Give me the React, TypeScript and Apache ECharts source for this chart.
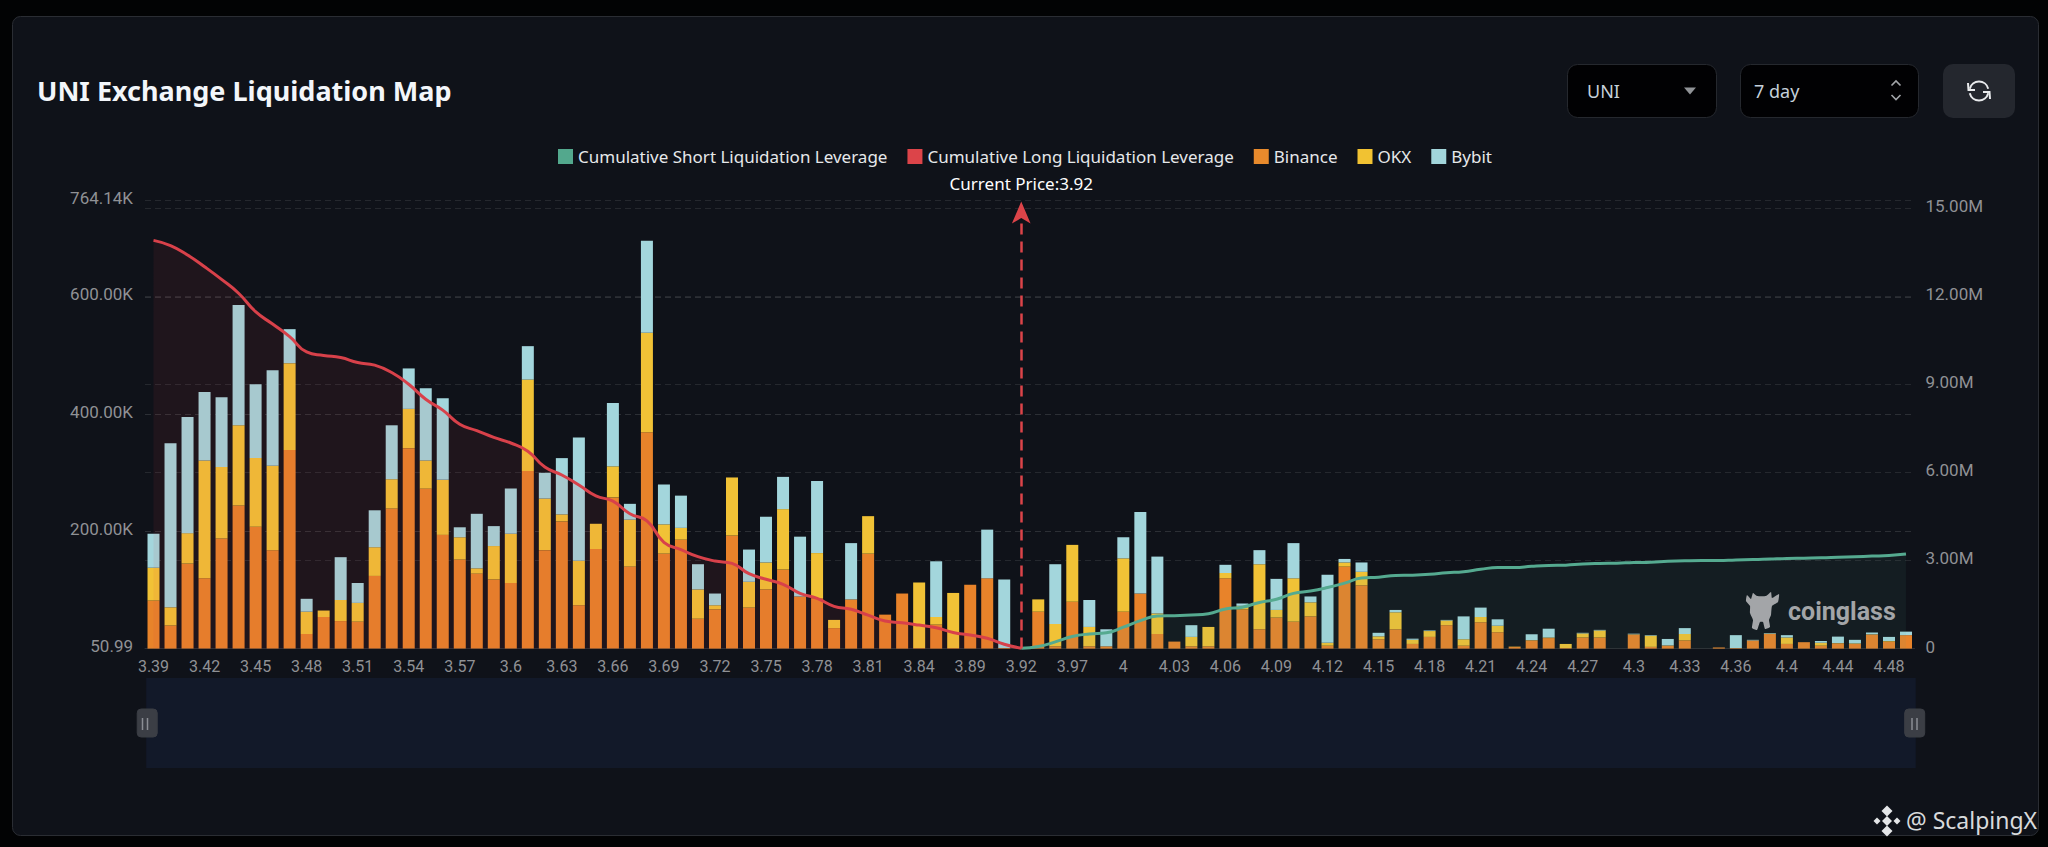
import React, { useEffect, useRef } from "react";
import * as echarts from "echarts";

const categories = [
  "3.39","3.4","3.41","3.42","3.43","3.44","3.45","3.46","3.47","3.48","3.49","3.5","3.51","3.52","3.53","3.54","3.55","3.56","3.57","3.58","3.59","3.6","3.61","3.62","3.63","3.64","3.65","3.66","3.67","3.68","3.69","3.7","3.71","3.72","3.73","3.74","3.75","3.76","3.77","3.78","3.79","3.8","3.81","3.82","3.83","3.84",
  "3.86","3.87","3.89","3.9","3.91","3.92","3.94","3.95","3.97","3.98","3.99","4","4.01","4.02","4.03","4.04","4.05","4.06","4.07","4.08","4.09","4.1","4.11","4.12","4.13","4.14","4.15","4.16","4.17","4.18","4.19","4.2","4.21","4.22","4.23","4.24","4.25","4.26","4.27","4.28","4.29","4.3","4.31","4.32","4.33","4.34","4.35","4.36","4.37","4.39","4.4","4.41","4.43","4.44","4.45","4.47","4.48","4.49",
];

// Thousands
const binanceK = [82,39.5,145,120,188,244,208,168,339,25,54,47,46,124,239,342,273,194,152,128,118,112,303,168,217,74,170,258,140,369,162,186,51,67,193,70,101,135,89,86,35,84,162,58,94,1,41,1,109,120,1,0,63,4,80,4,4,63,94,25,12,4,4,120,67,33,53,46,55,5,140,108,16,33,8,20,40,5,45,28,3,14,18,1,19,19,0,24,3,5,14,0,2,1,14,25,8,11,5,9,8,24,12,23];
const okxK = [56,31,52,201,122,137,117,144,148,38,11,36,32,49,50,67,48,94,38,9,57,84,156,88,12,76,43,53,80,170,50,20,50,7,99,44,46,103,0,77,14,0,64,0,0,112,13,94,0,0,0,0,21,38,97,33,0,91,0,35,0,16,33,9,6,111,13,74,24,5,7,23,5,29,7,10,8,11,9,11,0.5,0.5,1,7,7,12,0,0.5,19,0.5,11,0,0,0,0,0.5,11,0,5,0.5,1,0.5,1,0];
const bybitK = [58,280,198,117,119,205,126,163,58,22,0,73,34,63,92,69,123,139,17,93,34,77,57,44,96,210,0,108,27,157,68,55,43,20,0,55,78,55,102,123,0,96,0,0,0,0,95,0,0,83,117,0,0,102,0,46,29,36,139,97,0,20,0,14,4,24,53,60,10,116,6,16,6,4,2,1,1,39,16,11,0,10,15,0,1,1,0,1,1,11,10,0,0,22,1,1,4,0,3,11,6,3,7,6];

// Millions, from the first category up to the current price
const longCumM = [13.9,13.72,13.4,13.0,12.57,12.1,11.47,11.05,10.62,10.1,9.98,9.91,9.74,9.65,9.4,9.0,8.49,8.12,7.64,7.42,7.19,7.0,6.72,6.18,5.91,5.57,5.2,5.02,4.59,4.35,3.62,3.37,3.13,2.98,2.9,2.55,2.36,2.19,1.88,1.71,1.44,1.34,1.14,0.94,0.88,0.8,0.71,0.55,0.46,0.35,0.15,0.01];
// Millions, from the current price to the last category
const shortCumM = [0.01,0.07,0.23,0.41,0.5,0.54,0.73,0.95,1.11,1.12,1.14,1.19,1.35,1.41,1.57,1.68,1.88,1.96,2.08,2.23,2.4,2.43,2.49,2.5,2.53,2.58,2.62,2.7,2.76,2.76,2.8,2.83,2.84,2.88,2.9,2.91,2.93,2.94,2.97,2.99,3.0,3.0,3.02,3.03,3.05,3.07,3.08,3.09,3.11,3.13,3.15,3.17,3.22];

const CURRENT_PRICE = "3.92";
const LEFT_MIN = 50.99;
const LEFT_MAX = 764140;
const RIGHT_MAX = 15250000;

const UI = "'Noto Sans', sans-serif";
const AX = "Roboto, sans-serif";

const formatLeft = (v: number) => (v >= 1000 ? (v / 1000).toFixed(2) + "K" : String(v));
const formatRight = (v: number) => (v === 0 ? "0" : (v / 1e6).toFixed(2) + "M");

function diamond(cx: number, cy: number, r: number, fill: string) {
  return { type: "polygon", z: 100, silent: true, shape: { points: [[cx, cy - r], [cx + r, cy], [cx, cy + r], [cx - r, cy]] }, style: { fill } };
}

function grip(x: number) {
  return [-2.5, 2.5].map((d) => ({
    type: "line", z: 100, silent: true,
    shape: { x1: x + d, y1: 718, x2: x + d, y2: 730 },
    style: { stroke: "#8b8e94", lineWidth: 1.5 },
  }));
}

const graphicEls: any[] = [
  { type: "rect", z: -10, silent: true, shape: { x: 12.5, y: 16.5, width: 2026, height: 819, r: 8 }, style: { fill: "#0f1219", stroke: "#2a2d33", lineWidth: 1 } },
  // select: coin
  { type: "rect", z: 100, silent: true, shape: { x: 1567.5, y: 64.5, width: 149, height: 53, r: 10 }, style: { fill: "#010103", stroke: "#25282e", lineWidth: 1 } },
  { type: "text", z: 100, silent: true, x: 1587, y: 91, style: { text: "UNI", fill: "#c5d0da", font: `18px ${UI}`, verticalAlign: "middle" } },
  { type: "polygon", z: 100, silent: true, shape: { points: [[1684, 87.5], [1696, 87.5], [1690, 94.5]] }, style: { fill: "#909397" } },
  // select: period
  { type: "rect", z: 100, silent: true, shape: { x: 1740.5, y: 64.5, width: 178, height: 53, r: 10 }, style: { fill: "#010103", stroke: "#25282e", lineWidth: 1 } },
  { type: "text", z: 100, silent: true, x: 1754, y: 91, style: { text: "7 day", fill: "#c5d0da", font: `18px ${UI}`, verticalAlign: "middle" } },
  { type: "polyline", z: 100, silent: true, shape: { points: [[1891.5, 85.5], [1896, 81], [1900.5, 85.5]] }, style: { fill: "none", stroke: "#a2a5a9", lineWidth: 1.6 } },
  { type: "polyline", z: 100, silent: true, shape: { points: [[1891.5, 95], [1896, 99.5], [1900.5, 95]] }, style: { fill: "none", stroke: "#a2a5a9", lineWidth: 1.6 } },
  // refresh button
  { type: "rect", z: 100, silent: true, shape: { x: 1943, y: 64, width: 72, height: 54, r: 10 }, style: { fill: "#24272e" } },
  { type: "arc", z: 101, silent: true, shape: { cx: 1979, cy: 91, r: 9.5, startAngle: -2.9, endAngle: -0.25, clockwise: true }, style: { fill: "none", stroke: "#e8eaec", lineWidth: 2 } },
  { type: "arc", z: 101, silent: true, shape: { cx: 1979, cy: 91, r: 9.5, startAngle: 0.25, endAngle: 2.9, clockwise: true }, style: { fill: "none", stroke: "#e8eaec", lineWidth: 2 } },
  { type: "polyline", z: 101, silent: true, shape: { points: [[1968, 83], [1968.5, 90], [1975, 90]] }, style: { fill: "none", stroke: "#e8eaec", lineWidth: 2 } },
  { type: "polyline", z: 101, silent: true, shape: { points: [[1990, 99], [1989.5, 92], [1983, 92]] }, style: { fill: "none", stroke: "#e8eaec", lineWidth: 2 } },
  // coinglass mark
  { type: "polygon", z: 5, silent: true, shape: { smooth: 0.15, points: [[1747, 595], [1751, 599], [1753, 593], [1757, 596], [1766, 596], [1771, 592], [1772, 598], [1779, 594], [1778, 602], [1772, 606], [1771, 615], [1769, 620], [1770, 627], [1765, 629], [1763, 622], [1760, 622], [1757, 630], [1752, 628], [1753, 620], [1750, 613], [1750, 606], [1746, 601]] }, style: { fill: "#a3a5a8" } },
  { type: "text", z: 5, silent: true, x: 1788, y: 611, style: { text: "coinglass", fill: "#a3a5a8", font: `bold 25px ${AX}`, verticalAlign: "middle" } },
  // credit
  diamond(1887, 811, 5.5, "#e4e6e8"), diamond(1887, 831, 5.5, "#e4e6e8"), diamond(1877, 821, 3.5, "#e4e6e8"), diamond(1897, 821, 3.5, "#e4e6e8"), diamond(1887, 821, 5, "#e4e6e8"),
  { type: "text", z: 100, silent: true, x: 1906, y: 820, style: { text: "@ ScalpingX", fill: "#d8dadc", font: `23px ${UI}`, verticalAlign: "middle" } },
  ...grip(145), ...grip(1914.5),
];

export default function App() {
  const ref = useRef<HTMLDivElement>(null);

  useEffect(() => {
    document.body.style.margin = "0";
    document.body.style.background = "#020304";
    const chart = echarts.init(ref.current!, undefined, { renderer: "svg" });

    const longData = categories.map((_, i) => (i < longCumM.length ? longCumM[i] * 1e6 : null));
    const shortData = categories.map((_, i) => {
      const k = i - (longCumM.length - 1);
      return k >= 0 && k < shortCumM.length ? shortCumM[k] * 1e6 : null;
    });

    const barSeries = (name: string, values: number[], color: string) => ({
      name, type: "bar", stack: "ex", yAxisIndex: 0, barWidth: 12, z: 2,
      data: values.map((v) => v * 1000), itemStyle: { color },
    });

    chart.setOption({
      animation: false,
      backgroundColor: "#020304",
      title: {
        text: "UNI Exchange Liquidation Map", left: 32, top: 72,
        textStyle: { color: "#f3f6fa", fontFamily: UI, fontSize: 27, fontWeight: "bold" },
      },
      legend: {
        left: 553, top: 143, itemWidth: 15, itemHeight: 15, itemGap: 20,
        textStyle: { color: "#e6e8ea", fontFamily: UI, fontSize: 17 },
        data: [
          { name: "Cumulative Short Liquidation Leverage", icon: "rect", itemStyle: { color: "#53a88d" } },
          { name: "Cumulative Long Liquidation Leverage", icon: "rect", itemStyle: { color: "#dc4449" } },
          { name: "Binance", icon: "rect", itemStyle: { color: "#e88a2c" } },
          { name: "OKX", icon: "rect", itemStyle: { color: "#f1c232" } },
          { name: "Bybit", icon: "rect", itemStyle: { color: "#a2d5db" } },
        ],
      },
      grid: { left: 145, right: 133.5, top: 200.7, bottom: 847 - 648.6 },
      xAxis: {
        type: "category", data: categories, boundaryGap: true,
        axisLine: { lineStyle: { color: "#2c2f35" } },
        axisTick: { interval: 2, length: 5, lineStyle: { color: "#2c2f35" } },
        axisLabel: { interval: 2, color: "#8f9195", fontFamily: AX, fontSize: 16, margin: 10 },
      },
      yAxis: [
        {
          type: "value", min: LEFT_MIN, max: LEFT_MAX, splitNumber: 4,
          axisLine: { show: false }, axisTick: { show: false },
          axisLabel: { color: "#8f9195", fontFamily: AX, fontSize: 17, margin: 12, verticalAlign: "bottom", padding: [0, 0, -6, 0], formatter: formatLeft, showMinLabel: true, showMaxLabel: true },
          splitLine: { lineStyle: { color: "#2c2f35", type: [6, 4], width: 1 } },
        },
        {
          type: "value", min: 0, max: RIGHT_MAX, interval: 3000000,
          axisLine: { show: false }, axisTick: { show: false },
          axisLabel: { color: "#8f9195", fontFamily: AX, fontSize: 17, margin: 11, verticalAlign: "bottom", padding: [0, 0, -6.5, 0], formatter: formatRight, showMaxLabel: false },
          splitLine: { lineStyle: { color: "#25282e", type: [6, 4], width: 1 } },
        },
      ],
      dataZoom: [
        {
          type: "slider", xAxisIndex: 0, start: 0, end: 100, filterMode: "none",
          left: 145, right: 133.5, top: 678, height: 90,
          backgroundColor: "#121929", fillerColor: "rgba(0,0,0,0)", borderColor: "rgba(0,0,0,0)",
          showDataShadow: false, showDetail: false, brushSelect: false, moveHandleSize: 0,
          handleIcon: "path://M4 0h12a4 4 0 0 1 4 4v20a4 4 0 0 1-4 4h-12a4 4 0 0 1-4-4v-20a4 4 0 0 1 4-4z",
          handleSize: 28,
          handleStyle: { color: "#3b3e45", borderColor: "#3b3e45" },
        },
      ],
      series: [
        {
          name: "Cumulative Short Liquidation Leverage", type: "line", yAxisIndex: 1, z: 3,
          data: shortData, smooth: true, showSymbol: false, connectNulls: false,
          lineStyle: { color: "#55aa90", width: 3 }, itemStyle: { color: "#53a88d" },
          areaStyle: { color: "rgba(83,168,141,0.11)" },
        },
        {
          name: "Cumulative Long Liquidation Leverage", type: "line", yAxisIndex: 1, z: 3,
          data: longData, smooth: true, showSymbol: false, connectNulls: false,
          lineStyle: { color: "#d8414a", width: 3 }, itemStyle: { color: "#dc4449" },
          areaStyle: { color: "rgba(221,65,70,0.12)" },
          markLine: {
            silent: true, animation: false, symbol: ["none", "arrow"], symbolSize: [14, 22],
            lineStyle: { color: "#dc4449", type: [11, 7], width: 2.5 },
            label: { show: true, position: "end", formatter: "Current Price:" + CURRENT_PRICE, color: "#ffffff", fontFamily: UI, fontSize: 17, distance: 10 },
            data: [[{ coord: [CURRENT_PRICE, 0] }, { coord: [CURRENT_PRICE, 15220000] }]],
          },
        },
        barSeries("Binance", binanceK, "#e8832a"),
        barSeries("OKX", okxK, "#f1c236"),
        barSeries("Bybit", bybitK, "#a3d6dc"),
      ],
      graphic: { elements: graphicEls },
    });

    return () => chart.dispose();
  }, []);

  return <div ref={ref} style={{ position: "absolute", left: 0, top: 0, width: 2048, height: 847 }} />;
}
